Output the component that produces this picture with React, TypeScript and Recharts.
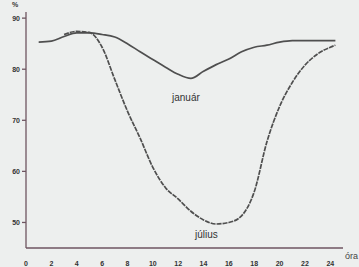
import React from 'react';
import { LineChart, Line, XAxis, YAxis } from 'recharts';

// hours of the day (óra)
const hours = [1, 2, 3, 4, 5, 6, 7, 8, 9, 10, 11, 12, 13, 14, 15, 16, 17, 18, 19, 20, 21, 22, 23, 24, 24.4];

// relative humidity, %
const januar = [85.3, 85.5, 86.4, 87.1, 87.1, 86.8, 86.3, 85.0, 83.4, 81.9, 80.4, 79.0, 78.2, 79.6, 80.9, 82.0, 83.4, 84.3, 84.7, 85.3, 85.6, 85.6, 85.6, 85.6, 85.6];
const julius = [null, null, 86.8, 87.4, 87.2, 84.3, 78.0, 71.8, 66.5, 60.8, 56.8, 54.6, 52.2, 50.5, 49.7, 50.0, 51.3, 56.0, 65.8, 72.7, 77.4, 80.8, 83.0, 84.3, 84.7];

const xTicks = [0, 2, 4, 6, 8, 10, 12, 14, 16, 18, 20, 22, 24];
const yTicks = [50, 60, 70, 80, 90];

const data = hours.map((h, i) => ({ h, jan: januar[i], jul: julius[i] }));

const tickStyle = { fontSize: 7, fontWeight: 700, fill: '#333', fontFamily: 'Liberation Sans, Arial, sans-serif' };
const axisColor = '#6e5560';
const lineColor = '#4f4f4f';

const App: React.FC = () => {
  return (
    <div
      style={{
        position: 'absolute',
        left: 0,
        top: 0,
        width: 359,
        height: 267,
        overflow: 'hidden',
        background: '#edefee',
        fontFamily: 'Liberation Sans, Arial, sans-serif',
      }}
    >
      <LineChart width={359} height={267} data={data} margin={{ top: 12, right: 16, left: 0, bottom: 0 }}>
        <XAxis
          dataKey="h"
          type="number"
          domain={[0, 25]}
          ticks={xTicks}
          tickLine={false}
          tickMargin={7}
          height={19}
          tick={tickStyle}
          stroke={axisColor}
          strokeWidth={1.3}
          allowDataOverflow
        />
        <YAxis
          type="number"
          domain={[45, 91.2]}
          ticks={yTicks}
          width={26}
          tickSize={4}
          tickMargin={2}
          tick={tickStyle}
          stroke={axisColor}
          strokeWidth={1.3}
          allowDataOverflow
        />
        <Line
          type="monotone"
          dataKey="jan"
          stroke={lineColor}
          strokeWidth={1.7}
          dot={false}
          isAnimationActive={false}
        />
        <Line
          type="monotone"
          dataKey="jul"
          stroke={lineColor}
          strokeWidth={1.7}
          strokeDasharray="5 1"
          dot={false}
          isAnimationActive={false}
        />
      </LineChart>
      <div style={{ position: 'absolute', left: 12, top: 1, fontSize: 7, fontWeight: 700, color: '#333' }}>%</div>
      <div style={{ position: 'absolute', left: 172, top: 92, fontSize: 10, color: '#333' }}>január</div>
      <div style={{ position: 'absolute', left: 195, top: 229, fontSize: 10, color: '#333' }}>július</div>
      <div style={{ position: 'absolute', left: 345, top: 251, fontSize: 9, color: '#444' }}>óra</div>
    </div>
  );
};

export default App;
